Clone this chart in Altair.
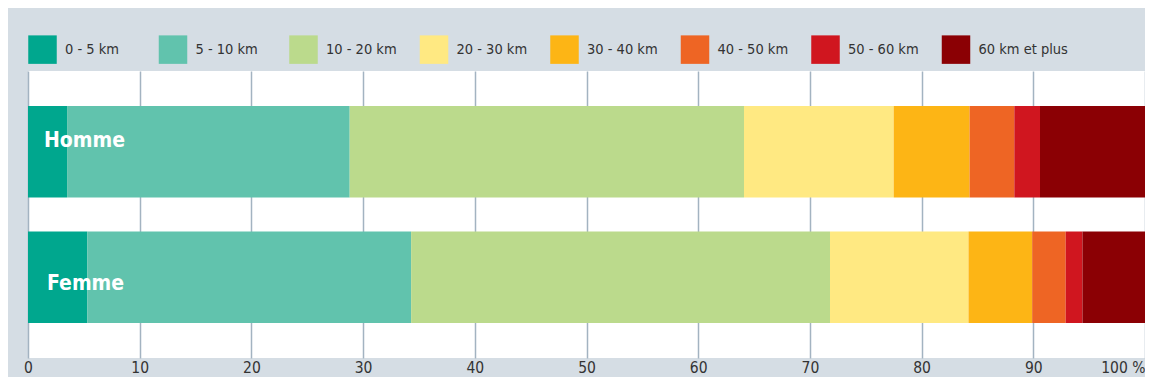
import altair as alt
import pandas as pd

categories = ["0 - 5 km", "5 - 10 km", "10 - 20 km", "20 - 30 km",
              "30 - 40 km", "40 - 50 km", "50 - 60 km", "60 km et plus"]
colors = ["#00a78e", "#61c3ad", "#bbda8c", "#ffe982",
          "#fdb515", "#ee6524", "#d0161f", "#8b0004"]
groups = ["Homme", "Femme"]
homme = [3.5, 25.3, 35.3, 13.4, 6.8, 4.0, 2.3, 9.4]
femme = [5.3, 29.0, 37.5, 12.4, 5.7, 3.0, 1.5, 5.6]
x_ticks = [0, 10, 20, 30, 40, 50, 60, 70, 80, 90, 100]

rows = []
for g, vals in zip(groups, [homme, femme]):
    for i, (c, v) in enumerate(zip(categories, vals)):
        rows.append({"groupe": g, "distance": c, "idx": i, "pct": v})
df = pd.DataFrame(rows)
labels_df = pd.DataFrame({"groupe": groups})

FONT = "DejaVu Sans Condensed, Roboto, sans-serif"

y_enc = alt.Y("groupe:N", sort=groups, axis=None,
              scale=alt.Scale(paddingInner=0.272, paddingOuter=0.28))

bars = alt.Chart(df).mark_bar().encode(
    x=alt.X("pct:Q", stack="zero",
            scale=alt.Scale(domain=[0, 100], nice=False, zero=True),
            axis=alt.Axis(values=x_ticks, title=None, grid=True, domain=False,
                          ticks=False, labelFontSize=15.5, labelColor="#333333",
                          labelFont=FONT, labelPadding=2,
                          labelExpr="datum.value == 100 ? '100 %' : datum.label",
                          labelAlign={"condition": {"test": "datum.value == 100", "value": "right"}, "value": "center"},
                          gridColor="#a3b3c1", gridWidth=1.5)),
    y=y_enc,
    color=alt.Color("distance:N", sort=categories,
                    scale=alt.Scale(domain=categories, range=colors),
                    legend=alt.Legend(title=None, orient="top", direction="horizontal",
                                      columns=8, symbolType="square", symbolSize=812,
                                      symbolStrokeWidth=0, symbolOpacity=1,
                                      labelFont=FONT, labelFontSize=14.5,
                                      labelColor="#333333", labelOffset=8,
                                      columnPadding=3.5, gridAlign="all", offset=7,
                                      labelLimit=200)),
    order=alt.Order("idx:Q"),
)

txt_h = alt.Chart(labels_df).transform_filter("datum.groupe == 'Homme'").mark_text(
    align="left", baseline="middle", dx=16, dy=-11, color="white",
    font=FONT, fontSize=21, fontWeight="bold"
).encode(x=alt.datum(0), y=alt.Y("groupe:N", sort=groups), text="groupe:N")

txt_f = alt.Chart(labels_df).transform_filter("datum.groupe == 'Femme'").mark_text(
    align="left", baseline="middle", dx=19, dy=7, color="white",
    font=FONT, fontSize=21, fontWeight="bold"
).encode(x=alt.datum(0), y=alt.Y("groupe:N", sort=groups), text="groupe:N")

chart = alt.layer(bars, txt_h, txt_f).properties(
    width=1117, height=287,
    autosize=alt.AutoSizeParams(type="none"),
    padding={"left": 20, "top": 63, "right": 0, "bottom": 19},
    background="#d5dde4",
).configure_view(strokeWidth=0, fill="white")

chart.save("out.html", embed_options={"renderer": "svg", "actions": False})
